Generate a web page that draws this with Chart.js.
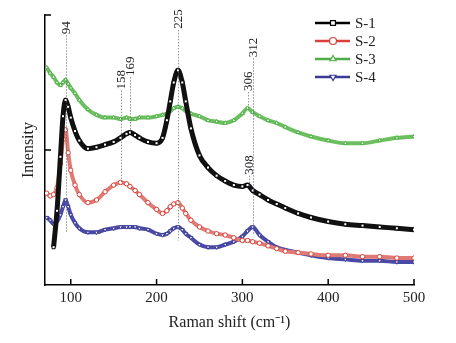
<!DOCTYPE html>
<html>
<head>
<meta charset="utf-8">
<script src="https://cdn.jsdelivr.net/npm/chart.js@4.4.0/dist/chart.umd.min.js"></script>
<style>
  html, body { margin: 0; background: #fff; }
  #wrap { width: 456px; height: 343px; }
</style>
</head>
<body>
<div id="wrap"><canvas id="ramanChart"></canvas></div>
<script>
// Raman shift positions (cm-1)
const shift = [72, 76, 80, 84, 88, 91, 94, 97, 100, 105, 110, 120, 130, 140, 150, 158, 165, 169, 175, 180,
  190, 200, 207, 212, 216, 220, 225, 230, 234, 240, 250, 260, 270, 280, 290, 300, 306, 312, 320, 330,
  340, 350, 365, 380, 400, 420, 440, 460, 480, 500];

// intensities (arbitrary units)
const s1 = [null, null, 0.28, 0.55, 0.95, 1.25, 1.37, 1.32, 1.24, 1.14, 1.07, 1.01, 1.02, 1.04, 1.06, 1.09, 1.12, 1.13, 1.11, 1.09,
  1.06, 1.05, 1.09, 1.22, 1.36, 1.50, 1.59, 1.50, 1.36, 1.16, 0.96, 0.87, 0.81, 0.77, 0.74, 0.73, 0.74, 0.70, 0.67, 0.63,
  0.60, 0.57, 0.53, 0.50, 0.47, 0.45, 0.44, 0.43, 0.42, 0.41];
const s2 = [0.68, 0.66, 0.67, 0.72, 0.90, 1.08, 1.15, 0.98, 0.85, 0.74, 0.67, 0.61, 0.63, 0.69, 0.74, 0.76, 0.75, 0.73, 0.70, 0.67,
  0.61, 0.56, 0.53, 0.55, 0.58, 0.60, 0.61, 0.57, 0.53, 0.48, 0.43, 0.40, 0.38, 0.37, 0.35, 0.33, 0.33, 0.32, 0.31, 0.29,
  0.27, 0.25, 0.24, 0.23, 0.22, 0.22, 0.21, 0.21, 0.20, 0.20];
const s3 = [1.61, 1.57, 1.54, 1.50, 1.48, 1.50, 1.52, 1.49, 1.46, 1.42, 1.37, 1.30, 1.26, 1.24, 1.24, 1.23, 1.24, 1.23, 1.23, 1.24,
  1.24, 1.25, 1.26, 1.27, 1.29, 1.31, 1.32, 1.31, 1.29, 1.27, 1.25, 1.22, 1.21, 1.20, 1.22, 1.27, 1.31, 1.28, 1.25, 1.22,
  1.20, 1.17, 1.13, 1.10, 1.07, 1.05, 1.05, 1.07, 1.09, 1.10];
const s4 = [0.50, 0.48, 0.45, 0.47, 0.52, 0.58, 0.63, 0.58, 0.52, 0.46, 0.42, 0.39, 0.39, 0.41, 0.42, 0.43, 0.43, 0.43, 0.43, 0.42,
  0.41, 0.38, 0.37, 0.38, 0.40, 0.42, 0.43, 0.41, 0.38, 0.35, 0.30, 0.28, 0.28, 0.30, 0.32, 0.36, 0.40, 0.43, 0.37, 0.32,
  0.28, 0.26, 0.24, 0.22, 0.20, 0.19, 0.18, 0.18, 0.17, 0.17];

const seriesNames = ["S-1", "S-2", "S-3", "S-4"];
const xTicks = [100, 200, 300, 400, 500];
const yTicks = [1, 2];

// peak labels and the extent of their guide lines (intensity units)
const peakShift = [94, 158, 169, 225, 306, 312, 308];
const peakText = ["94", "158", "169", "225", "306", "312", "308"];
const peakTop = [1.85, 1.44, 1.54, 1.89, 1.43, 1.68, 0.81];
const peakBottom = [0.39, 0.76, 1.13, 0.33, 1.31, 0.37, 0.72];

const serif = "'Liberation Serif', 'Times New Roman', serif";
const colors = ["#000000", "#d9423c", "#4cae45", "#3a3a94"];
const bandColors = ["#111111", "#e07a74", "#6cbf5f", "#4a4aa6"];
const styles = ["rect", "circle", "triangle", "triangle"];
const rotations = [0, 0, 0, 180];

const toPoints = (vals) => shift.map((s, i) => ({ x: s, y: vals[i] }));

const datasets = [s1, s2, s3, s4].map((vals, i) => ({
  label: seriesNames[i],
  data: toPoints(vals),
  borderColor: bandColors[i],
  legendColor: colors[i],
  borderWidth: i === 0 ? 5 : 4,
  backgroundColor: "#fff",
  pointStyle: styles[i],
  pointRotation: rotations[i],
  pointRadius: 2.2,
  pointBorderWidth: 1,
  pointBackgroundColor: "#fff",
  pointBorderColor: colors[i],
  cubicInterpolationMode: "monotone",
  spanGaps: false,
}));

// inward ticks, peak guides and legend
const decorations = {
  id: "decorations",
  afterDraw(chart) {
    const { ctx, chartArea: a, scales: { x, y } } = chart;
    ctx.save();
    ctx.strokeStyle = "#000";
    ctx.lineWidth = 1.5;
    ctx.beginPath();
    xTicks.forEach((t) => {
      const px = x.getPixelForValue(t);
      ctx.moveTo(px, a.bottom);
      ctx.lineTo(px, a.bottom - 6);
    });
    yTicks.forEach((t) => {
      const py = y.getPixelForValue(t);
      ctx.moveTo(a.left, py);
      ctx.lineTo(a.left + 6, py);
    });
    ctx.stroke();

    // peak guides
    ctx.font = "13px " + serif;
    ctx.fillStyle = "#222";
    peakShift.forEach((p, i) => {
      const px = Math.round(x.getPixelForValue(p)) + 0.5;
      const top = y.getPixelForValue(peakTop[i]);
      const bot = y.getPixelForValue(peakBottom[i]);
      ctx.save();
      ctx.strokeStyle = p === 312 ? "#5a5aa8" : "#666";
      ctx.lineWidth = 0.7;
      ctx.setLineDash([1.5, 1.5]);
      ctx.beginPath();
      ctx.moveTo(px, top);
      ctx.lineTo(px, bot);
      ctx.stroke();
      ctx.translate(px, top - 1);
      ctx.rotate(-Math.PI / 2);
      ctx.textAlign = "left";
      ctx.textBaseline = "middle";
      ctx.fillText(peakText[i], 0, 0);
      ctx.restore();
    });

    // legend
    const lx = a.right - 99;
    ctx.font = "15px " + serif;
    ctx.textBaseline = "middle";
    ctx.textAlign = "left";
    chart.data.datasets.forEach((ds, i) => {
      const ly = a.top + 8 + i * 18;
      ctx.strokeStyle = ds.legendColor;
      ctx.lineWidth = 2.5;
      ctx.beginPath();
      ctx.moveTo(lx, ly);
      ctx.lineTo(lx + 35, ly);
      ctx.stroke();
      ctx.fillStyle = "#fff";
      ctx.lineWidth = 1.2;
      Chart.helpers.drawPoint(ctx, {
        pointStyle: ds.pointStyle,
        rotation: ds.pointRotation,
        radius: 3.5,
        borderWidth: 1.2,
      }, lx + 18, ly);
      ctx.fillStyle = "#222";
      ctx.fillText(ds.label, lx + 40, ly + 1);
    });
    ctx.restore();
  },
};

new Chart(document.getElementById("ramanChart"), {
  type: "line",
  data: { datasets: datasets },
  options: {
    responsive: true,
    maintainAspectRatio: false,
    animation: false,
    layout: { padding: { left: 0, right: 42, top: 15, bottom: 0 } },
    plugins: { legend: { display: false }, tooltip: { enabled: false } },
    scales: {
      x: {
        type: "linear",
        min: 70,
        max: 500,
        afterBuildTicks: (scale) => { scale.ticks = xTicks.map((v) => ({ value: v })); },
        afterFit: (scale) => { scale.height = 58; },
        grid: { display: true, drawOnChartArea: false, drawTicks: false },
        border: { display: true, color: "#000", width: 1.5 },
        ticks: { color: "#222", padding: 4, font: { family: serif, size: 15 } },
        title: {
          display: true,
          text: "Raman shift (cm\u207B\u00B9)",
          color: "#222",
          font: { family: serif, size: 16 },
          padding: { top: 0, bottom: 11 },
        },
      },
      y: {
        min: 0,
        max: 2,
        afterFit: (scale) => { scale.width = 45; },
        grid: { display: true, drawOnChartArea: false, drawTicks: false },
        border: { display: true, color: "#000", width: 1.5 },
        ticks: { display: false },
        title: {
          display: true,
          text: "Intensity",
          color: "#222",
          font: { family: serif, size: 16 },
          padding: { top: 19, bottom: 0 },
        },
      },
    },
  },
  plugins: [decorations],
});
</script>
</body>
</html>
